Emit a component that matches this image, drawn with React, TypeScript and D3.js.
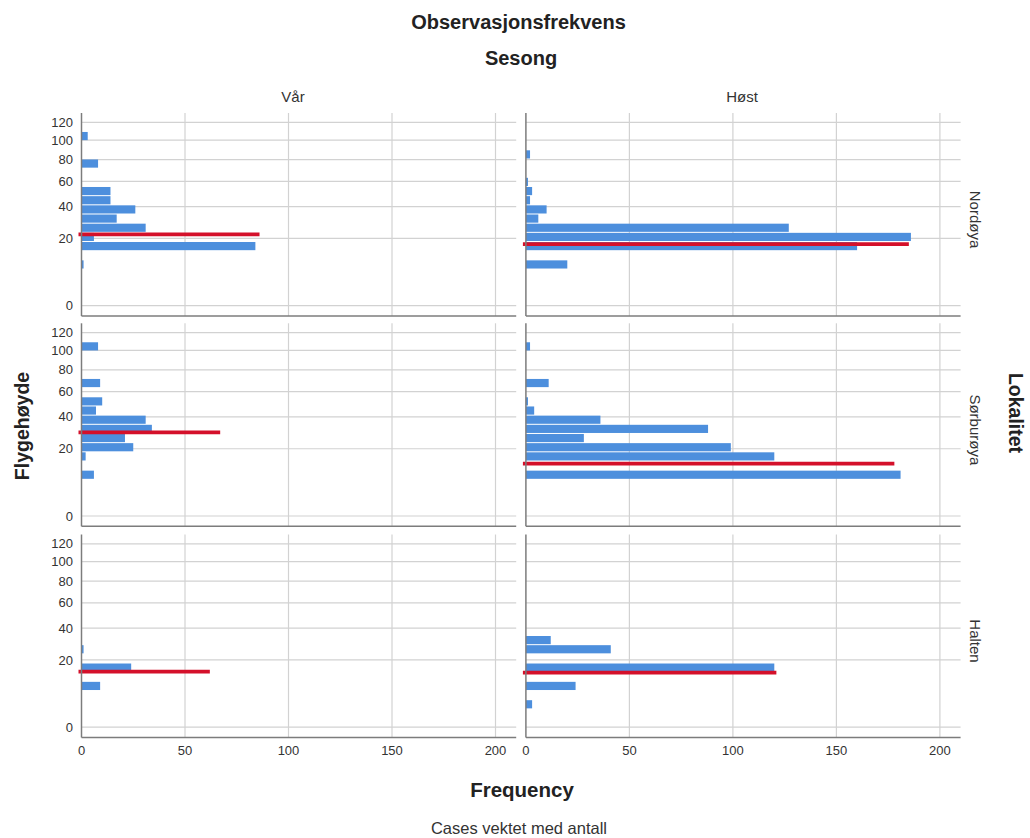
import React from "react";
import * as d3 from "d3";

const seasons = ["Vår", "Høst"];
const locations = ["Nordøya", "Sørburøya", "Halten"];
const yTicks = [0, 20, 40, 60, 80, 100, 120];
const xTicks = [0, 50, 100, 150, 200];

// [binIndex, count] — bins are equal-width in the transformed height axis (20 bins over 0–120)
const nordoyaVar = [[4, 1], [6, 84], [7, 6], [8, 31], [9, 17], [10, 26], [11, 14], [12, 14], [15, 8], [18, 3]];
const nordoyaHost = [[4, 20], [6, 160], [7, 186], [8, 127], [9, 6], [10, 10], [11, 2], [12, 3], [13, 1], [16, 2]];
const sorVar = [[4, 6], [6, 2], [7, 25], [8, 21], [9, 34], [10, 31], [11, 7], [12, 10], [14, 9], [18, 8]];
const sorHost = [[4, 181], [6, 120], [7, 99], [8, 28], [9, 88], [10, 36], [11, 4], [12, 1], [14, 11], [18, 2]];
const haltenVar = [[4, 9], [6, 24], [8, 1]];
const haltenHost = [[2, 3], [4, 24], [6, 120], [8, 41], [9, 12]];

// red reference line: [height level, frequency]
const redVar = [[22.2, 86], [29.5, 67], [14.2, 62]];
const redHost = [[17.1, 185], [12.8, 178], [13.8, 121]];

const panelBins = [
  [nordoyaVar, nordoyaHost],
  [sorVar, sorHost],
  [haltenVar, haltenHost],
];
const panelRed = [
  [redVar[0], redHost[0]],
  [redVar[1], redHost[1]],
  [redVar[2], redHost[2]],
];

const colX0 = [81.5, 525.9];
const colW = 434.7;
const rowTop = [113, 323.3, 534.5];
const rowH = 203;
const NBINS = 20;
const FONT = "'Liberation Sans', Arial, sans-serif";
const BLUE = "#4d8fdd";
const RED = "#d4102a";
const GRID = "#d2d2d2";
const AXIS = "#7c7c7c";

export default function App() {
  const x = d3.scaleLinear().domain([0, 210]).range([0, colW]);
  const makeY = (top: number) =>
    d3.scalePow().exponent(0.56).domain([0, 120]).range([top + 192.7, top + 9.3]);
  const makeYBin = (top: number) =>
    d3.scaleLinear().domain([0, NBINS]).range([top + 192.7, top + 9.3]);

  return (
    <svg width={1030} height={838} style={{ position: "absolute", left: 0, top: 0, background: "#fff" }} fontFamily={FONT}>
      <rect x={0} y={0} width={1030} height={838} fill="#fff" />
      <text x={518.5} y={29} textAnchor="middle" fontSize={20} fontWeight="bold" fill="#222">Observasjonsfrekvens</text>
      <text x={521} y={65} textAnchor="middle" fontSize={20} fontWeight="bold" fill="#222">Sesong</text>
      {seasons.map((s, c) => (
        <text key={s} x={c === 0 ? 293 : 742} y={102} textAnchor="middle" fontSize={15} fill="#333">{s}</text>
      ))}
      {locations.map((loc, r) => {
        const top = rowTop[r];
        const y = makeY(top);
        const yb = makeYBin(top);
        return (
          <g key={loc}>
            <text transform={`translate(970,${top + rowH / 2 + 5}) rotate(90)`} textAnchor="middle" fontSize={15} fill="#333">{loc}</text>
            {seasons.map((s, c) => {
              const x0 = colX0[c];
              const bins = panelBins[r][c];
              const red = panelRed[r][c];
              return (
                <g key={s} transform={`translate(${x0},0)`}>
                  {yTicks.map((t) => (
                    <line key={"h" + t} x1={0} x2={colW} y1={y(t)} y2={y(t)} stroke={GRID} strokeWidth={1.2} />
                  ))}
                  {xTicks.filter((t) => t > 0).map((t) => (
                    <line key={"v" + t} x1={x(t)} x2={x(t)} y1={top} y2={top + rowH} stroke={GRID} strokeWidth={1.2} />
                  ))}
                  {bins.map(([k, n]) => (
                    <rect key={k} x={0} y={yb(k + 1) + 0.5} width={x(n)} height={yb(k) - yb(k + 1) - 1} fill={BLUE} />
                  ))}
                  <line x1={-3} x2={x(red[1])} y1={y(red[0])} y2={y(red[0])} stroke={RED} strokeWidth={3.8} />
                  <line x1={0} x2={0} y1={top} y2={top + rowH} stroke={AXIS} strokeWidth={1.5} />
                  <line x1={0} x2={colW} y1={top + rowH} y2={top + rowH} stroke={AXIS} strokeWidth={1.5} />
                  {c === 0 &&
                    yTicks.map((t) => (
                      <text key={"yl" + t} x={-8.5} y={y(t) + 4.6} textAnchor="end" fontSize={13} fill="#333">{t}</text>
                    ))}
                  {r === 2 &&
                    xTicks.map((t) => (
                      <text key={"xl" + t} x={x(t)} y={755} textAnchor="middle" fontSize={13} fill="#333">{t}</text>
                    ))}
                </g>
              );
            })}
          </g>
        );
      })}
      <text transform="translate(29,426) rotate(-90)" textAnchor="middle" fontSize={19.5} fontWeight="bold" fill="#222">Flygehøyde</text>
      <text transform="translate(1009,413) rotate(90)" textAnchor="middle" fontSize={19.5} fontWeight="bold" fill="#222">Lokalitet</text>
      <text x={522} y={797} textAnchor="middle" fontSize={20.5} fontWeight="bold" fill="#222">Frequency</text>
      <text x={519} y={834} textAnchor="middle" fontSize={16.5} fill="#333">Cases vektet med antall</text>
    </svg>
  );
}
